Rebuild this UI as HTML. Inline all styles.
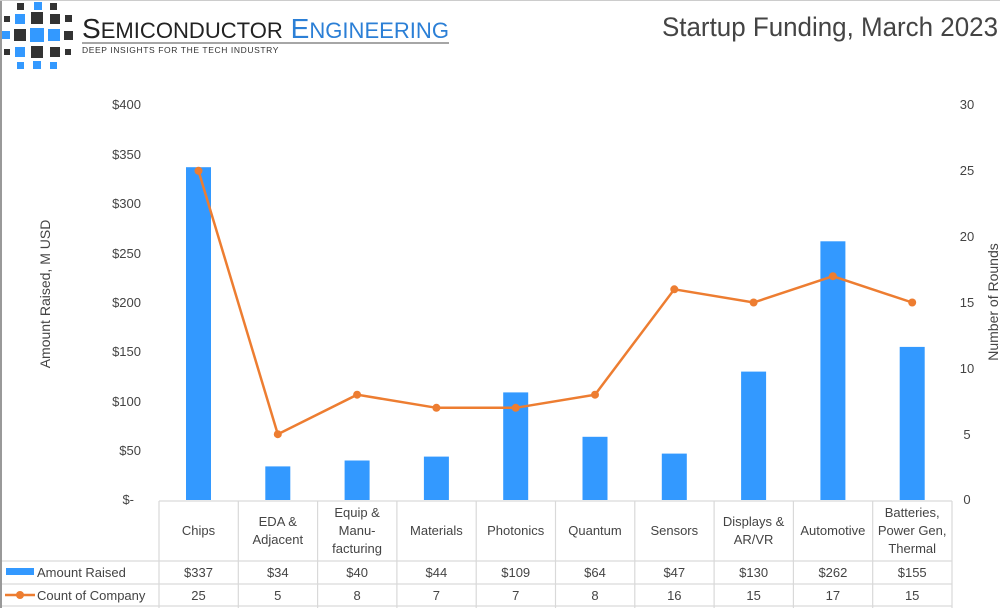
<!DOCTYPE html>
<html><head><meta charset="utf-8"><style>
body{margin:0;background:#fff;}
svg{display:block;font-family:"Liberation Sans",sans-serif;}
</style></head><body>
<svg width="1000" height="608" viewBox="0 0 1000 608" xmlns="http://www.w3.org/2000/svg">
<rect width="1000" height="608" fill="#fff"/>
<line x1="1" y1="0" x2="1" y2="608" stroke="#999" stroke-width="2"/>
<line x1="0" y1="0.5" x2="1000" y2="0.5" stroke="#ccc" stroke-width="1"/>
<!-- logo squares -->
<g>
<rect x="17" y="3" width="7" height="7" fill="#333"/><rect x="34" y="2" width="8" height="8" fill="#3399ff"/><rect x="50" y="3" width="7" height="7" fill="#333"/>
<rect x="4" y="16" width="6" height="6" fill="#333"/><rect x="15" y="14" width="10" height="10" fill="#3399ff"/><rect x="31" y="12" width="12" height="12" fill="#333"/><rect x="50" y="14" width="10" height="10" fill="#333"/><rect x="65" y="15" width="7" height="7" fill="#333"/>
<rect x="2" y="31" width="8" height="8" fill="#3399ff"/><rect x="14" y="29" width="12" height="12" fill="#333"/><rect x="30" y="28" width="14" height="14" fill="#3399ff"/><rect x="48" y="29" width="12" height="12" fill="#3399ff"/><rect x="64" y="31" width="9" height="9" fill="#333"/>
<rect x="4" y="49" width="6" height="6" fill="#333"/><rect x="15" y="47" width="10" height="10" fill="#3399ff"/><rect x="31" y="46" width="12" height="12" fill="#333"/><rect x="50" y="47" width="10" height="10" fill="#333"/><rect x="65" y="49" width="6" height="6" fill="#333"/>
<rect x="17" y="62" width="7" height="7" fill="#3399ff"/><rect x="33" y="61" width="8" height="8" fill="#3399ff"/><rect x="50" y="62" width="7" height="7" fill="#3399ff"/>
</g>
<text x="82" y="38" font-size="28" fill="#222" textLength="367" lengthAdjust="spacingAndGlyphs">S<tspan font-size="22">EMICONDUCTOR</tspan> <tspan fill="#2b7fd6" font-size="28">E</tspan><tspan fill="#2b7fd6" font-size="22">NGINEERING</tspan></text>
<line x1="82" y1="43" x2="449" y2="43" stroke="#888" stroke-width="1.5"/>
<text x="82" y="53" font-size="8.5" fill="#333" letter-spacing="0.6">DEEP INSIGHTS FOR THE TECH INDUSTRY</text>
<text x="998" y="36" text-anchor="end" font-size="27" fill="#444" textLength="336" lengthAdjust="spacingAndGlyphs">Startup Funding, March 2023</text>
<!-- axes labels -->
<g font-size="13" fill="#444" text-anchor="end">
<text x="141" y="109">$400</text><text x="141" y="159">$350</text><text x="141" y="208">$300</text><text x="141" y="258">$250</text><text x="141" y="307">$200</text><text x="141" y="356">$150</text><text x="141" y="406">$100</text><text x="141" y="455">$50</text><text x="134" y="504">$-</text>
</g>
<g font-size="13" fill="#444" text-anchor="middle">
<text x="967" y="109">30</text><text x="967" y="175">25</text><text x="967" y="241">20</text><text x="967" y="307">15</text><text x="967" y="373">10</text><text x="967" y="439">5</text><text x="967" y="504">0</text>
</g>
<text transform="translate(50,294) rotate(-90)" text-anchor="middle" font-size="14" fill="#444">Amount Raised, M USD</text>
<text transform="translate(998,302) rotate(-90)" text-anchor="middle" font-size="14" fill="#444">Number of Rounds</text>
<!-- bars -->
<g fill="#3399ff">
<rect x="186" y="167.2" width="25" height="332.8"/>
<rect x="265.3" y="466.4" width="25" height="33.6"/>
<rect x="344.6" y="460.5" width="25" height="39.5"/>
<rect x="423.9" y="456.6" width="25" height="43.4"/>
<rect x="503.2" y="392.4" width="25" height="107.6"/>
<rect x="582.5" y="436.8" width="25" height="63.2"/>
<rect x="661.8" y="453.6" width="25" height="46.4"/>
<rect x="741.1" y="371.6" width="25" height="128.4"/>
<rect x="820.4" y="241.3" width="25" height="258.7"/>
<rect x="899.7" y="346.9" width="25" height="153.1"/>
</g>
<polyline fill="none" stroke="#ed7d31" stroke-width="2.5" points="198.5,170.8 277.8,434.2 357.1,394.7 436.4,407.8 515.7,407.8 595,394.7 674.3,289.3 753.6,302.5 832.9,276.2 912.2,302.5"/>
<g fill="#ed7d31">
<circle cx="198.5" cy="170.8" r="4"/><circle cx="277.8" cy="434.2" r="4"/><circle cx="357.1" cy="394.7" r="4"/><circle cx="436.4" cy="407.8" r="4"/><circle cx="515.7" cy="407.8" r="4"/><circle cx="595" cy="394.7" r="4"/><circle cx="674.3" cy="289.3" r="4"/><circle cx="753.6" cy="302.5" r="4"/><circle cx="832.9" cy="276.2" r="4"/><circle cx="912.2" cy="302.5" r="4"/>
</g>
<!-- table -->
<g stroke="#d9d9d9" stroke-width="1.2">
<line x1="159" y1="501" x2="952" y2="501"/>
<line x1="2" y1="561" x2="952" y2="561"/>
<line x1="2" y1="584" x2="952" y2="584"/>
<line x1="2" y1="606" x2="952" y2="606"/>
<line x1="159" y1="501" x2="159" y2="608"/><line x1="238.3" y1="501" x2="238.3" y2="608"/><line x1="317.6" y1="501" x2="317.6" y2="608"/><line x1="396.9" y1="501" x2="396.9" y2="608"/><line x1="476.2" y1="501" x2="476.2" y2="608"/><line x1="555.5" y1="501" x2="555.5" y2="608"/><line x1="634.8" y1="501" x2="634.8" y2="608"/><line x1="714.1" y1="501" x2="714.1" y2="608"/><line x1="793.4" y1="501" x2="793.4" y2="608"/><line x1="872.7" y1="501" x2="872.7" y2="608"/><line x1="952" y1="501" x2="952" y2="608"/>
</g>
<g font-size="13" fill="#444" text-anchor="middle">
<text x="198.5" y="535">Chips</text>
<text x="277.8" y="526">EDA &amp;</text><text x="277.8" y="544">Adjacent</text>
<text x="357.1" y="517">Equip &amp;</text><text x="357.1" y="535">Manu-</text><text x="357.1" y="553">facturing</text>
<text x="436.4" y="535">Materials</text>
<text x="515.7" y="535">Photonics</text>
<text x="595" y="535">Quantum</text>
<text x="674.3" y="535">Sensors</text>
<text x="753.6" y="526">Displays &amp;</text><text x="753.6" y="544">AR/VR</text>
<text x="832.9" y="535">Automotive</text>
<text x="912.2" y="517">Batteries,</text><text x="912.2" y="535">Power Gen,</text><text x="912.2" y="553">Thermal</text>
<text x="198.5" y="577">$337</text><text x="277.8" y="577">$34</text><text x="357.1" y="577">$40</text><text x="436.4" y="577">$44</text><text x="515.7" y="577">$109</text><text x="595" y="577">$64</text><text x="674.3" y="577">$47</text><text x="753.6" y="577">$130</text><text x="832.9" y="577">$262</text><text x="912.2" y="577">$155</text>
<text x="198.5" y="600">25</text><text x="277.8" y="600">5</text><text x="357.1" y="600">8</text><text x="436.4" y="600">7</text><text x="515.7" y="600">7</text><text x="595" y="600">8</text><text x="674.3" y="600">16</text><text x="753.6" y="600">15</text><text x="832.9" y="600">17</text><text x="912.2" y="600">15</text>
</g>
<rect x="6" y="568" width="28" height="7" fill="#3399ff"/>
<text x="37" y="577" font-size="13" fill="#444">Amount Raised</text>
<line x1="5" y1="595" x2="35" y2="595" stroke="#ed7d31" stroke-width="2.5"/><circle cx="20" cy="595" r="4" fill="#ed7d31"/>
<text x="37" y="600" font-size="13" fill="#444">Count of Company</text>
</svg>
</body></html>
